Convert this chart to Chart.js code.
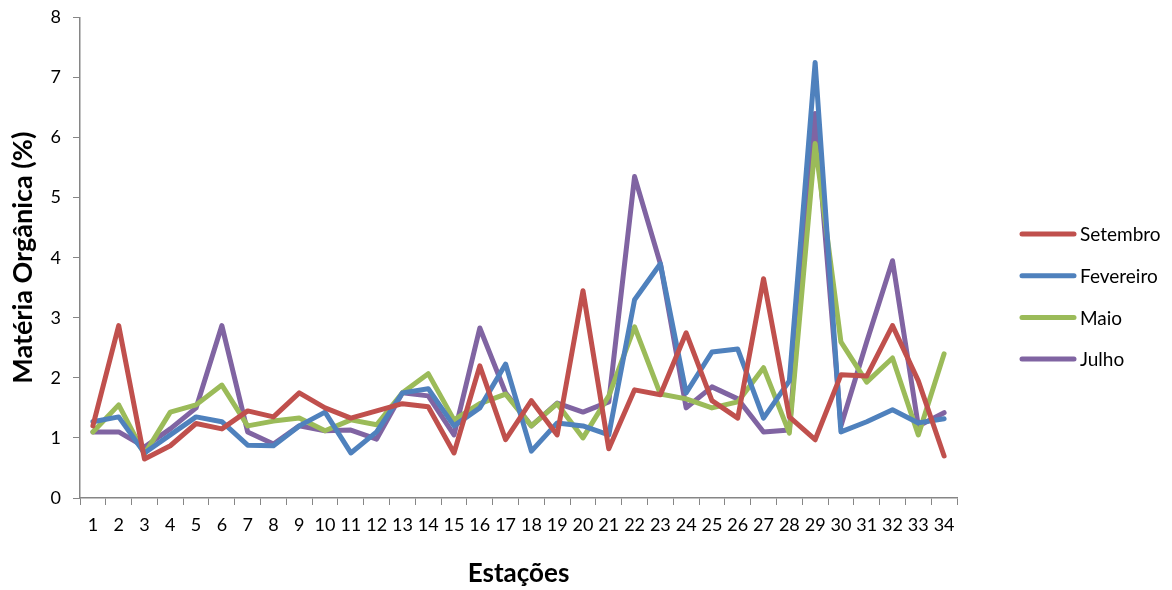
<!DOCTYPE html>
<html>
<head>
<meta charset="utf-8">
<script src="https://cdn.jsdelivr.net/npm/chart.js@4/dist/chart.umd.min.js"></script>
<style>
  html, body { margin: 0; padding: 0; background: #fff; }
  #wrap { width: 1172px; height: 590px; }
</style>
</head>
<body>
<div id="wrap"><canvas id="chart"></canvas></div>
<script>
// Estações 1..34
const stations = Array.from({ length: 34 }, (_, i) => String(i + 1));

// % matéria orgânica
const setembro = [1.2, 2.87, 0.65, 0.87, 1.24, 1.15, 1.45, 1.35, 1.75, 1.5, 1.33, 1.45, 1.57, 1.52, 0.75, 2.2, 0.97,
  1.62, 1.05, 3.45, 0.82, 1.8, 1.72, 2.75, 1.62, 1.33, 3.65, 1.35, 0.97, 2.05, 2.03, 2.87, 1.95, 0.7];
const fevereiro = [1.27, 1.35, 0.75, 1.05, 1.35, 1.27, 0.88, 0.87, 1.2, 1.43, 0.75, 1.1, 1.75, 1.82, 1.2, 1.5, 2.23,
  0.78, 1.25, 1.2, 1.05, 3.3, 3.9, 1.75, 2.43, 2.48, 1.33, 1.95, 7.25, 1.1, 1.27, 1.47, 1.25, 1.32];
const maio = [1.1, 1.55, 0.73, 1.43, 1.55, 1.88, 1.2, 1.28, 1.33, 1.12, 1.3, 1.22, 1.75, 2.07, 1.3, 1.57, 1.73,
  1.2, 1.57, 1.0, 1.7, 2.85, 1.73, 1.65, 1.5, 1.6, 2.17, 1.08, 5.9, 2.6, 1.93, 2.33, 1.05, 2.4];
const julho = [1.1, 1.1, 0.85, 1.15, 1.5, 2.87, 1.1, 0.9, 1.2, 1.12, 1.13, 0.98, 1.75, 1.7, 1.05, 2.83, 1.75,
  1.2, 1.58, 1.43, 1.6, 5.35, 3.9, 1.5, 1.85, 1.65, 1.1, 1.13, 6.4, 1.2, 2.6, 3.95, 1.2, 1.42];

const seriesNames = ["Setembro", "Fevereiro", "Maio", "Julho"];
const seriesColors = ["#C0504D", "#4F81BD", "#9BBB59", "#8064A2"];
const yTicks = [0, 1, 2, 3, 4, 5, 6, 7, 8];

const FONT = "Lato, 'Open Sans', sans-serif";
const AXIS = "#868686";

// legend drawn by hand on the right, like the original
const sideLegend = {
  id: "sideLegend",
  afterDraw(chart) {
    const ctx = chart.ctx;
    const x0 = 1022, y0 = 234, gap = 41.7;
    ctx.save();
    ctx.font = "19px " + FONT;
    ctx.textBaseline = "middle";
    chart.data.datasets.forEach((ds, i) => {
      const y = y0 + i * gap;
      ctx.strokeStyle = ds.borderColor;
      ctx.lineWidth = 5;
      ctx.lineCap = "round";
      ctx.beginPath();
      ctx.moveTo(x0, y);
      ctx.lineTo(x0 + 52, y);
      ctx.stroke();
      ctx.fillStyle = "#000";
      ctx.fillText(ds.label, x0 + 58, y + 1);
    });
    ctx.restore();
  }
};

const allSeries = [setembro, fevereiro, maio, julho];

new Chart(document.getElementById("chart"), {
  type: "line",
  data: {
    labels: stations,
    datasets: allSeries.map((vals, i) => ({
      label: seriesNames[i],
      data: vals,
      borderColor: seriesColors[i],
      backgroundColor: seriesColors[i],
      borderWidth: 5,
      tension: 0,
      pointRadius: 0,
      borderJoinStyle: "round",
      borderCapStyle: "round"
    }))
  },
  options: {
    responsive: true,
    maintainAspectRatio: false,
    animation: false,
    layout: { padding: { top: 15, right: 215, left: 0, bottom: 0 } },
    plugins: {
      legend: { display: false },
      tooltip: { enabled: false }
    },
    scales: {
      x: {
        offset: true,
        grid: { offset: true, drawOnChartArea: false, drawTicks: true, tickLength: 7, color: AXIS },
        border: { color: AXIS, width: 1.5 },
        ticks: { color: "#000", font: { family: FONT, size: 18 }, padding: 9, maxRotation: 0, autoSkip: false },
        title: { display: true, text: "Estações", color: "#000", font: { family: FONT, size: 26, weight: "bold" }, padding: { top: 10, bottom: 1 } },
        afterFit(s) { s.height = 92; }
      },
      y: {
        min: 0,
        max: 8,
        afterBuildTicks(s) { s.ticks = yTicks.map(v => ({ value: v })); },
        grid: { drawOnChartArea: false, drawTicks: true, tickLength: 7, color: AXIS },
        border: { color: AXIS, width: 1.5 },
        ticks: { color: "#000", font: { family: FONT, size: 18, lineHeight: 0.6 }, padding: 12 },
        title: { display: true, text: "Matéria Orgânica (%)", color: "#000", font: { family: FONT, size: 27, weight: "bold" }, padding: { top: 7, bottom: 4 } },
        afterFit(s) { s.width = 80; }
      }
    }
  },
  plugins: [sideLegend]
});
</script>
</body>
</html>
